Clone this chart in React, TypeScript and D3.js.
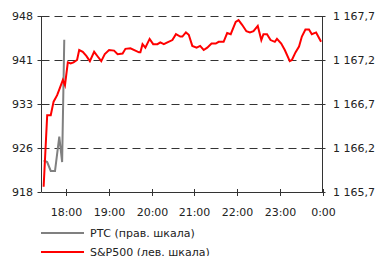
import React from "react";
import * as d3 from "d3";

// S&P500, left scale
const spTimes = [
  "17:28", "17:33", "17:38", "17:42", "17:47", "17:51", "17:55", "17:58",
  "18:02", "18:06", "18:10", "18:15", "18:18", "18:23", "18:28", "18:33",
  "18:39", "18:44", "18:49", "18:54", "19:00", "19:07", "19:12", "19:19",
  "19:23", "19:30", "19:37", "19:42", "19:44", "19:47", "19:51", "19:57",
  "20:02", "20:08", "20:12", "20:17", "20:22", "20:29", "20:34", "20:40",
  "20:43", "20:48", "20:52", "20:57", "21:03", "21:08", "21:13", "21:18",
  "21:24", "21:30", "21:34", "21:41", "21:46", "21:51", "21:58", "22:02",
  "22:07", "22:13", "22:18", "22:23", "22:29", "22:34", "22:37", "22:42",
  "22:47", "22:53", "22:56", "23:02", "23:07", "23:14", "23:17", "23:22",
  "23:27", "23:31", "23:36", "23:41", "23:45", "23:51", "23:58",
];
const spValues = [
  918.9, 931.1, 931.1, 933.4, 934.5, 935.8, 937.1, 936.2,
  940.1, 939.9, 940.1, 940.5, 942.2, 941.9, 941.2, 940.3,
  941.9, 941.1, 940.3, 941.5, 942.2, 942.1, 941.5, 941.6,
  942.4, 942.5, 942.1, 941.8, 941.8, 943.2, 942.6, 944.1,
  943.2, 943.2, 943.5, 943.2, 943.5, 943.9, 944.9, 944.5,
  944.5, 945.2, 944.8, 942.9, 942.6, 942.9, 942.2, 942.6,
  943.3, 943.3, 943.6, 943.6, 945.1, 944.9, 947.0, 947.3,
  946.5, 945.4, 945.2, 945.4, 946.3, 943.9, 944.9, 944.9,
  943.9, 943.6, 944.1, 943.3, 942.2, 940.3, 940.5, 941.8,
  942.8, 944.5, 945.7, 945.7, 944.9, 945.2, 943.6,
];

// RTS, right scale
const rtsTimes = ["17:28", "17:33", "17:38", "17:44", "17:50", "17:54", "17:57"];
const rtsValues = [1166.06, 1166.04, 1165.94, 1165.94, 1166.33, 1166.04, 1167.43];

const leftTicks = [918, 925.5, 933, 940.5, 948];
const leftTickLabels = ["918", "926", "933", "941", "948"];
const rightTicks = [1165.7, 1166.2, 1166.7, 1167.2, 1167.7];
const rightTickLabels = ["1 165,7", "1 166,2", "1 166,7", "1 167,2", "1 167,7"];
const xTickLabels = ["18:00", "19:00", "20:00", "21:00", "22:00", "23:00", "0:00"];

const legendLabels = ["РТС (прав. шкала)", "S&P500 (лев. шкала)"];

const toMin = (s: string) => {
  const [h, m] = s.split(":").map(Number);
  return (h < 12 ? h + 24 : h) * 60 + m;
};

const FONT = "DejaVu Sans, Verdana, sans-serif";

export default function App() {
  const W = 376;
  const H = 256;
  const left = 41.5;
  const right = 322.5;
  const top = 16;
  const bottom = 192;

  const x = d3.scaleLinear().domain([toMin("17:25"), toMin("0:00")]).range([left, right]);
  const yL = d3.scaleLinear().domain([918, 948]).range([bottom, top]);
  const yR = d3.scaleLinear().domain([1165.7, 1167.7]).range([bottom, top]);

  const spLine = d3
    .line<number>()
    .x((_, i) => x(toMin(spTimes[i])))
    .y((d) => yL(d));
  const rtsLine = d3
    .line<number>()
    .x((_, i) => x(toMin(rtsTimes[i])))
    .y((d) => yR(d));

  const axisColor = "#333";
  const textColor = "#222";

  return (
    <svg
      width={W}
      height={H}
      style={{ position: "absolute", left: 0, top: 0, background: "#fff" }}
      fontFamily={FONT}
      fontSize={11}
    >
      {/* dashed gridlines */}
      {leftTicks.slice(1).map((t) => (
        <line
          key={"g" + t}
          x1={left}
          x2={right}
          y1={Math.round(yL(t)) + 0.5}
          y2={Math.round(yL(t)) + 0.5}
          stroke={axisColor}
          strokeDasharray="8,5"
        />
      ))}

      {/* left axis */}
      <line x1={left} x2={left} y1={top} y2={bottom} stroke={axisColor} />
      {leftTicks.map((t, i) => (
        <g key={"l" + t} transform={`translate(0,${Math.round(yL(t)) + 0.5})`}>
          <line x1={left - 4} x2={left} stroke={axisColor} />
          <text x={33} textAnchor="end" dy="0.35em" fill={textColor}>
            {leftTickLabels[i]}
          </text>
        </g>
      ))}

      {/* right axis */}
      <line x1={right} x2={right} y1={top} y2={bottom} stroke={axisColor} />
      {rightTicks.map((t, i) => (
        <g key={"r" + t} transform={`translate(0,${Math.round(yR(t)) + 0.5})`}>
          <line x1={right - 3} x2={right + 3} stroke={axisColor} />
          <text x={333} dy="0.35em" fill={textColor}>
            {rightTickLabels[i]}
          </text>
        </g>
      ))}

      {/* x axis */}
      <line x1={left} x2={right} y1={bottom + 0.5} y2={bottom + 0.5} stroke={axisColor} />
      {xTickLabels.map((lab) => {
        const px = Math.round(x(toMin(lab))) + 0.5;
        return (
          <g key={lab} transform={`translate(${px},0)`}>
            <line y1={bottom - 3} y2={bottom + 4} stroke={axisColor} />
            <text y={216} textAnchor="middle" fill={textColor}>
              {lab}
            </text>
          </g>
        );
      })}

      {/* series */}
      <path d={rtsLine(rtsValues) ?? ""} fill="none" stroke="#808080" strokeWidth={2} />
      <path d={spLine(spValues) ?? ""} fill="none" stroke="#ff0000" strokeWidth={2} />

      {/* legend */}
      {legendLabels.map((lab, i) => (
        <g key={lab} transform={`translate(0,${233 + i * 19})`}>
          <line x1={41} x2={84} stroke={i === 0 ? "#808080" : "#ff0000"} strokeWidth={2} />
          <text x={90} dy="0.35em" fill={textColor}>
            {lab}
          </text>
        </g>
      ))}
    </svg>
  );
}
